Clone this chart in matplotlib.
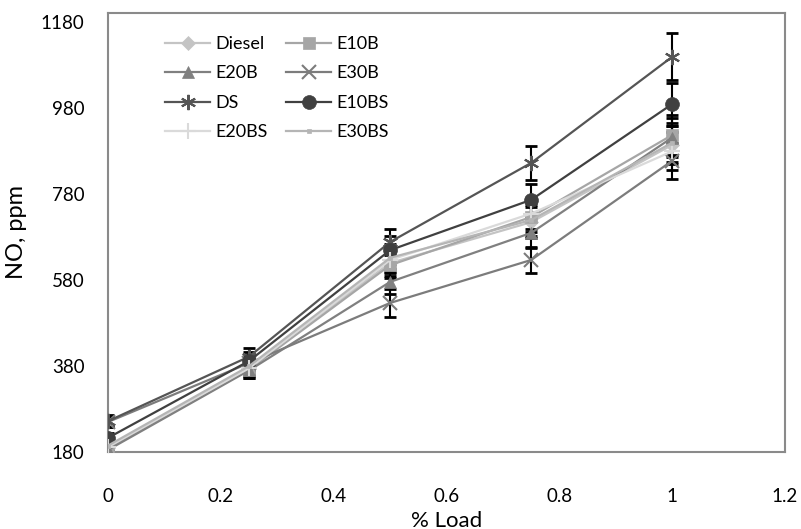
import matplotlib
matplotlib.use("Agg")
import matplotlib.pyplot as plt

# ---------------------------------------------------------------------------
# Donnees
# ---------------------------------------------------------------------------
load = [0, 0.25, 0.5, 0.75, 1]

diesel = [190, 378, 620, 715, 895]
e10b = [188, 372, 615, 727, 918]
e20b = [185, 370, 576, 690, 912]
e30b = [250, 387, 527, 627, 858]
ds = [252, 402, 669, 853, 1100]
e10bs = [213, 392, 650, 767, 990]
e20bs = [192, 375, 627, 735, 880]
e30bs = [195, 380, 632, 720, 900]

err_diesel = [9, 19, 31, 36, 45]
err_e10b = [9, 19, 31, 36, 46]
err_e20b = [9, 18, 29, 35, 46]
err_e30b = [12, 19, 33, 30, 42]
err_ds = [13, 20, 30, 40, 55]
err_e10bs = [11, 20, 33, 38, 50]
err_e20bs = [10, 19, 31, 37, 44]
err_e30bs = [10, 19, 32, 36, 45]

yticks = [180, 380, 580, 780, 980, 1180]
xticks = [0, 0.2, 0.4, 0.6, 0.8, 1, 1.2]

# (label, valeurs, erreurs, couleur, marqueur, taille)
series = [
    ("Diesel", diesel, err_diesel, "#c4c4c4", "D", 7),
    ("E10B", e10b, err_e10b, "#a6a6a6", "s", 9),
    ("E20B", e20b, err_e20b, "#808080", "^", 9),
    ("E30B", e30b, err_e30b, "#7c7c7c", "x", 10),
    ("DS", ds, err_ds, "#555555", (6, 2, 0), 11),
    ("E10BS", e10bs, err_e10bs, "#404040", "o", 10),
    ("E20BS", e20bs, err_e20bs, "#dadada", "+", 11),
    ("E30BS", e30bs, err_e30bs, "#b5b5b5", "s", 3),
]

plt.rcParams["font.family"] = ["Lato", "DejaVu Sans"]

fig = plt.figure(figsize=(8.01, 5.29), dpi=100)
ax = fig.add_axes([0.135, 0.1456, 0.845, 0.8298])

handles = {}
for name, vals, errs, col, mk, ms in series:
    ax.errorbar(load, vals, yerr=errs, fmt="none", ecolor="black",
                elinewidth=1.5, capsize=4, capthick=2, zorder=2)
    (h,) = ax.plot(load, vals, color=col, marker=mk, markersize=ms,
                   linewidth=1.6, markeredgewidth=1.5 if mk in ("x", "+", (6, 2, 0)) else 0.5,
                   markeredgecolor=col, label=name, zorder=3)
    handles[name] = h

ax.set_xlim(0, 1.2)
ax.set_ylim(180, 1202)
ax.set_xticks(xticks)
ax.set_xticklabels(["0", "0.2", "0.4", "0.6", "0.8", "1", "1.2"])
ax.set_yticks(yticks)
ax.tick_params(length=0, labelsize=13.5)
ax.tick_params(axis="x", pad=26)
ax.tick_params(axis="y", pad=17)

for sp in ax.spines.values():
    sp.set_color("#8a8a8a")
    sp.set_linewidth(1.5)

ax.set_xlabel("% Load", fontsize=16, labelpad=4)
ax.set_ylabel("NO, ppm", fontsize=17, labelpad=10)

# ordre ligne par ligne comme dans l'original (2 colonnes)
order = ["Diesel", "E20B", "DS", "E20BS", "E10B", "E30B", "E10BS", "E30BS"]
ax.legend([handles[n] for n in order], order, ncol=2, frameon=False,
          loc="upper left", bbox_to_anchor=(0.06, 0.985), fontsize=13,
          handlelength=2.5, columnspacing=1.0, labelspacing=0.75,
          handletextpad=0.3)

fig.savefig("out.png", dpi=100)
